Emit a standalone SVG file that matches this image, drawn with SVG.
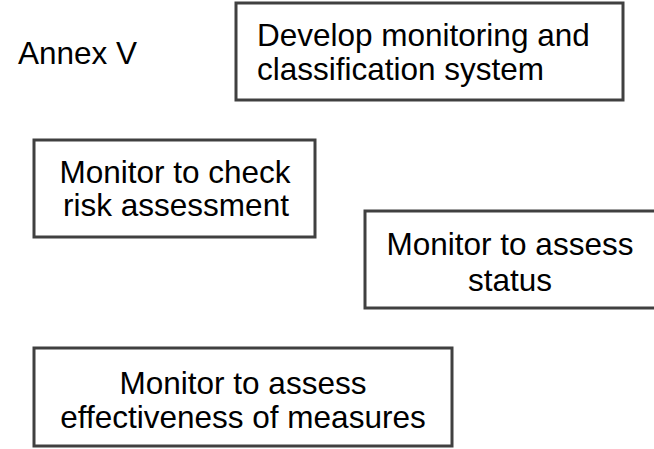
<svg xmlns="http://www.w3.org/2000/svg" width="654" height="449" viewBox="0 0 654 449">
<style>
.box{fill:#fff;stroke:#404040;stroke-width:3}
text{font-family:"Liberation Sans",Arial,sans-serif;font-size:31.5px;fill:#000}
.c{text-anchor:middle}
</style>
<rect width="654" height="449" fill="#fff"/>
<text x="18" y="64">Annex V</text>
<g id="n1">
<rect class="box" x="236" y="3" width="387" height="97"/>
<text x="257" y="46">Develop monitoring and</text>
<text x="257" y="80">classification system</text>
</g>
<g id="n2">
<rect class="box" x="34" y="140" width="281" height="97"/>
<text class="c" x="175" y="183">Monitor to check</text>
<text class="c" x="176" y="216">risk assessment</text>
</g>
<g id="n3">
<rect class="box" x="365" y="211" width="300" height="97"/>
<text class="c" x="510" y="255">Monitor to assess</text>
<text class="c" x="510" y="291">status</text>
</g>
<g id="n4">
<rect class="box" x="34" y="348" width="418" height="98"/>
<text class="c" x="243" y="394">Monitor to assess</text>
<text class="c" x="243" y="428">effectiveness of measures</text>
</g>
<g id="connectors"></g>
</svg>
